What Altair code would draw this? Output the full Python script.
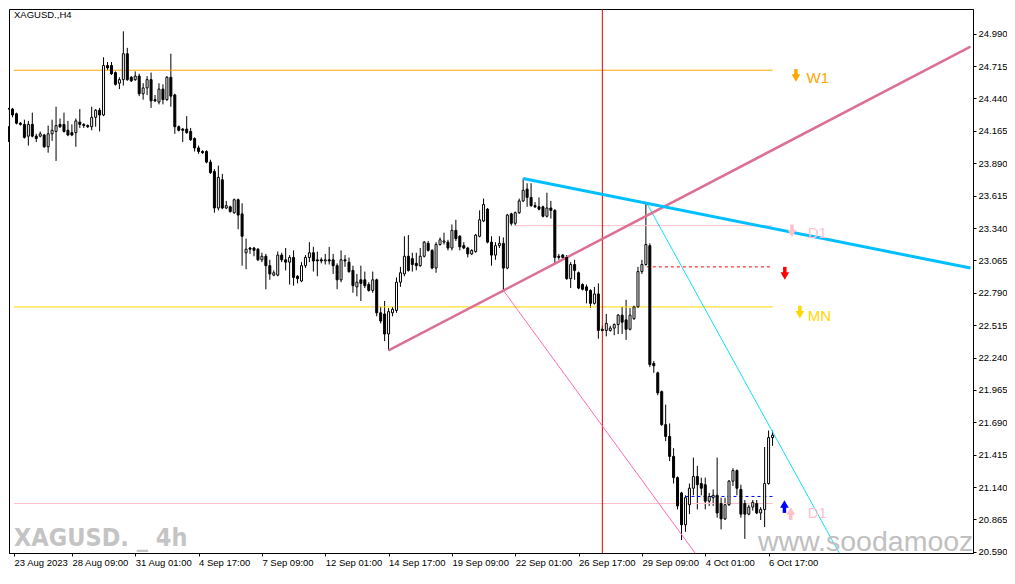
import json
import altair as alt
import pandas as pd

# ---------------- data ----------------
OPEN = [24.20, 24.35, 24.31, 24.23, 24.22, 24.12, 24.22, 24.12, 24.12, 24.13,
        24.03, 24.14, 24.16, 24.22, 24.22, 24.17, 24.15, 24.15, 24.24, 24.22,
        24.21, 24.20, 24.28, 24.34, 24.30, 24.72, 24.72, 24.66, 24.57, 24.60,
        24.82, 24.62, 24.60, 24.63, 24.48, 24.53, 24.60, 24.43, 24.41, 24.52,
        24.43, 24.62, 24.47, 24.20, 24.18, 24.18, 24.16, 24.10, 24.02, 23.99,
        23.99, 23.90, 23.82, 23.51, 23.75, 23.51, 23.52, 23.47, 23.58, 23.46,
        23.13, 23.17, 23.17, 23.16, 23.07, 23.10, 23.02, 22.94, 22.94, 23.11,
        23.07, 23.05, 23.09, 22.93, 22.89, 23.02, 23.09, 23.13, 23.07, 23.07,
        23.06, 23.07, 23.07, 23.02, 22.90, 23.07, 23.05, 22.98, 22.84, 22.90,
        22.90, 22.86, 22.81, 22.90, 22.62, 22.61, 22.44, 22.62, 22.64, 22.88,
        22.95, 23.10, 23.08, 23.04, 23.02, 23.10, 23.21, 23.15, 23.00, 23.20,
        23.22, 23.22, 23.17, 23.32, 23.27, 23.19, 23.17, 23.12, 23.14, 23.27,
        23.40, 23.50, 23.22, 23.11, 23.19, 23.21, 23.00, 23.46, 23.38, 23.47,
        23.57, 23.67, 23.60, 23.53, 23.52, 23.52, 23.44, 23.51, 23.49, 23.10,
        23.11, 23.09, 22.91, 23.03, 22.96, 22.86, 22.84, 22.81, 22.70, 22.78,
        22.48, 22.47, 22.47, 22.49, 22.52, 22.60, 22.56, 22.48, 22.57, 22.67,
        22.97, 23.03, 23.19, 22.19, 22.11, 21.95, 21.67, 21.57, 21.40, 21.22,
        21.09, 20.82, 20.99, 21.13, 21.23, 21.17, 21.16, 21.02, 21.05, 21.07,
        21.00, 20.87, 20.99, 21.19, 21.28, 21.12, 21.00, 20.91, 20.97, 21.00,
        20.92, 20.95, 21.17, 21.56]
HIGH = [24.36, 24.36, 24.32, 24.24, 24.26, 24.25, 24.32, 24.14, 24.16, 24.14,
        24.21, 24.26, 24.37, 24.27, 24.32, 24.25, 24.22, 24.27, 24.35, 24.23,
        24.22, 24.37, 24.35, 24.36, 24.79, 24.75, 24.75, 24.67, 24.62, 25.01,
        24.87, 24.63, 24.67, 24.65, 24.57, 24.63, 24.66, 24.47, 24.57, 24.56,
        24.63, 24.82, 24.48, 24.21, 24.19, 24.29, 24.19, 24.11, 24.04, 24.00,
        24.00, 23.92, 23.84, 23.87, 23.80, 23.57, 23.53, 23.59, 23.59, 23.55,
        23.25, 23.18, 23.18, 23.17, 23.13, 23.12, 23.07, 22.98, 23.14, 23.13,
        23.17, 23.11, 23.15, 22.94, 23.05, 23.11, 23.22, 23.18, 23.14, 23.09,
        23.12, 23.18, 23.12, 23.04, 23.15, 23.11, 23.09, 23.02, 22.95, 23.02,
        22.97, 22.88, 22.97, 22.91, 22.67, 22.72, 22.66, 22.67, 22.92, 23.01,
        23.27, 23.28, 23.13, 23.13, 23.17, 23.23, 23.23, 23.16, 23.22, 23.26,
        23.30, 23.24, 23.37, 23.41, 23.28, 23.22, 23.18, 23.16, 23.29, 23.49,
        23.59, 23.51, 23.27, 23.22, 23.27, 23.26, 23.46, 23.47, 23.48, 23.59,
        23.76, 23.72, 23.72, 23.56, 23.60, 23.53, 23.64, 23.57, 23.50, 23.12,
        23.12, 23.11, 23.05, 23.07, 22.97, 22.87, 22.86, 22.82, 22.84, 22.87,
        22.51, 22.61, 22.51, 22.53, 22.61, 22.67, 22.73, 22.66, 22.68, 23.01,
        23.07, 23.55, 23.21, 22.21, 22.12, 21.96, 21.84, 21.68, 21.47, 21.23,
        21.10, 21.07, 21.17, 21.39, 21.32, 21.22, 21.22, 21.09, 21.12, 21.39,
        21.05, 21.05, 21.20, 21.30, 21.29, 21.16, 21.03, 20.99, 21.03, 21.03,
        20.97, 21.48, 21.62, 21.62]
LOW = [24.07, 24.28, 24.22, 24.21, 24.10, 24.04, 24.11, 24.07, 24.11, 24.02,
       23.98, 24.08, 23.91, 24.19, 24.15, 24.12, 24.12, 24.03, 24.19, 24.19,
       24.19, 24.17, 24.20, 24.16, 24.29, 24.68, 24.64, 24.55, 24.52, 24.55,
       24.59, 24.58, 24.59, 24.46, 24.43, 24.47, 24.36, 24.41, 24.39, 24.39,
       24.42, 24.37, 24.14, 24.16, 24.07, 24.14, 24.08, 23.99, 23.97, 23.97,
       23.89, 23.80, 23.47, 23.49, 23.50, 23.50, 23.47, 23.46, 23.33, 23.02,
       22.99, 23.12, 23.10, 23.06, 23.05, 22.82, 22.90, 22.93, 22.93, 23.05,
       22.98, 22.86, 22.85, 22.87, 22.88, 23.00, 23.05, 22.97, 22.93, 23.04,
       23.03, 23.03, 22.95, 22.82, 22.88, 23.01, 22.96, 22.79, 22.76, 22.72,
       22.83, 22.80, 22.79, 22.59, 22.53, 22.38, 22.30, 22.59, 22.62, 22.84,
       22.93, 22.97, 22.97, 22.98, 23.01, 23.09, 23.14, 22.99, 22.96, 23.19,
       23.20, 23.15, 23.15, 23.23, 23.15, 23.16, 23.09, 23.11, 23.13, 23.26,
       23.39, 23.21, 23.02, 23.07, 23.17, 22.80, 22.99, 23.36, 23.36, 23.46,
       23.56, 23.52, 23.52, 23.51, 23.49, 23.43, 23.43, 23.42, 23.04, 23.07,
       23.07, 22.90, 22.83, 22.90, 22.82, 22.81, 22.70, 22.66, 22.69, 22.40,
       22.46, 22.42, 22.46, 22.43, 22.44, 22.44, 22.39, 22.47, 22.56, 22.66,
       22.95, 23.02, 22.16, 22.11, 21.92, 21.66, 21.53, 21.36, 21.17, 20.95,
       20.69, 20.76, 20.91, 21.07, 20.95, 21.07, 20.95, 20.98, 20.98, 20.88,
       20.78, 20.86, 20.98, 21.15, 21.07, 20.88, 20.70, 20.90, 20.94, 20.91,
       20.86, 20.80, 21.16, 21.49]
CLOSE = [24.35, 24.30, 24.23, 24.22, 24.11, 24.22, 24.12, 24.10, 24.14, 24.03,
         24.14, 24.17, 24.21, 24.20, 24.16, 24.13, 24.13, 24.25, 24.22, 24.21,
         24.20, 24.28, 24.34, 24.30, 24.72, 24.70, 24.65, 24.56, 24.60, 24.82,
         24.60, 24.59, 24.63, 24.48, 24.53, 24.60, 24.42, 24.42, 24.52, 24.43,
         24.62, 24.46, 24.20, 24.17, 24.17, 24.15, 24.09, 24.02, 23.99, 23.98,
         23.90, 23.81, 23.51, 23.77, 23.51, 23.53, 23.48, 23.58, 23.45, 23.27,
         23.16, 23.16, 23.15, 23.07, 23.10, 23.02, 22.95, 22.96, 23.11, 23.07,
         23.05, 23.09, 22.92, 22.91, 23.02, 23.09, 23.13, 23.06, 23.06, 23.06,
         23.07, 23.06, 23.02, 22.90, 23.07, 23.06, 22.97, 22.85, 22.88, 22.87,
         22.85, 22.81, 22.90, 22.62, 22.55, 22.44, 22.63, 22.65, 22.88, 22.96,
         23.10, 22.98, 23.03, 23.02, 23.10, 23.22, 23.15, 23.00, 23.20, 23.24,
         23.23, 23.17, 23.32, 23.25, 23.18, 23.17, 23.12, 23.15, 23.28, 23.41,
         23.54, 23.22, 23.11, 23.19, 23.21, 23.00, 23.45, 23.38, 23.47, 23.57,
         23.66, 23.60, 23.53, 23.52, 23.50, 23.44, 23.51, 23.49, 23.09, 23.09,
         23.09, 22.91, 23.03, 22.98, 22.83, 22.82, 22.81, 22.70, 22.78, 22.47,
         22.47, 22.53, 22.49, 22.52, 22.60, 22.54, 22.48, 22.60, 22.67, 22.97,
         23.03, 23.20, 22.18, 22.17, 21.94, 21.67, 21.57, 21.40, 21.22, 20.98,
         20.82, 21.05, 21.13, 21.23, 21.16, 21.13, 21.02, 21.06, 21.07, 20.92,
         20.87, 20.99, 21.19, 21.28, 21.13, 20.91, 20.91, 20.97, 21.01, 20.92,
         20.95, 21.17, 21.56, 21.58]

X_LABELS = ["23 Aug 2023", "28 Aug 09:00", "31 Aug 01:00", "4 Sep 17:00",
            "7 Sep 09:00", "12 Sep 01:00", "14 Sep 17:00", "19 Sep 09:00",
            "22 Sep 01:00", "26 Sep 17:00", "29 Sep 09:00", "4 Oct 01:00",
            "6 Oct 17:00"]
X_LABEL_BARS = [0, 16, 32, 48, 64, 80, 96, 112, 128, 144, 160, 176, 192]
Y_TICKS = [24.990, 24.715, 24.440, 24.165, 23.890, 23.615, 23.340, 23.065,
           22.790, 22.515, 22.240, 21.965, 21.690, 21.415, 21.140, 20.865, 20.590]

# horizontal level lines: name, price, start bar, end bar
LEVEL_NAMES = ["W1", "D1 high", "D1 low", "MN", "red dash", "blue dash"]
LEVEL_PRICES = [24.68, 23.36, 21.00, 22.67, 23.01, 21.06]
LEVEL_START = [None, 128, None, None, 161.25, 171]
LEVEL_END = [193, 193, 193, 193, 193, 193]
LEVEL_COLORS = ["#FFA500", "#FFC0CB", "#FFC0CB", "#FFD700", "#FF0000", "#0000FF"]
LEVEL_DASHED = [False, False, False, False, True, True]

# trend lines: (bar1, price1, bar2, price2)
TREND_BLUE = [130, 23.76, 243, 23.00]
TREND_PINK = [96, 22.30, 243, 24.88]
TREND_PINK_THIN = [125, 22.81, 173.75, 20.565]
TREND_CYAN = [161.25, 23.55, 210, 20.57]
VLINE_BAR = 150

# arrows and level labels
ARROW_BAR = [198.9, 197.9, 196.1, 199.9, 196.0, 197.6]
ARROW_PRICE = [24.63, 23.31, 22.95, 22.62, 20.98, 20.92]
ARROW_DIR = ["down", "down", "down", "down", "up", "up"]
ARROW_COLOR = ["#FFA500", "#FFC0CB", "#FF0000", "#FFD700", "#0000FF", "#FFC0CB"]
LABEL_TEXT = ["W1", "D1", "MN", "D1"]
LABEL_BAR = [201.6, 201.9, 201.9, 201.9]
LABEL_PRICE = [24.615, 23.30, 22.59, 20.92]
LABEL_COLOR = ["#FFA500", "#FFC0CB", "#FFD700", "#FFC0CB"]

# ---------------- layout ----------------
W, H = 964, 544
X_DOMAIN = [1.375, 1.375 + W / 4]
Y_DOMAIN = [20.58, 25.20]
FONT = "Liberation Sans"

xs = alt.Scale(domain=X_DOMAIN, nice=False, zero=False)
ys = alt.Scale(domain=Y_DOMAIN, nice=False, zero=False)

candles = pd.DataFrame({"bar": list(range(len(OPEN))), "open": OPEN, "high": HIGH,
                        "low": LOW, "close": CLOSE})

x_values = [X_DOMAIN[0]] + X_LABEL_BARS[1:]
x_axis = alt.Axis(values=x_values,
                  labelExpr=json.dumps(X_LABELS) + "[round(datum.value/16)]",
                  labelAlign="left", labelBaseline="top", labelPadding=1,
                  tickSize=3, labelFlush=False, labelOverlap=False, grid=False,
                  title=None, labelFont=FONT, labelFontSize=9.5, labelColor="black",
                  tickColor="black", domainColor="black")
y_axis = alt.Axis(orient="right", values=Y_TICKS, format=".3f", tickSize=3,
                  labelPadding=2, grid=False, title=None, labelFont=FONT,
                  labelFontSize=9.5, labelColor="black", tickColor="black",
                  domainColor="black", labelOverlap=False, labelFlush=False)


def X(field):
    return alt.X(field, type="quantitative", scale=xs, axis=x_axis)


def Y(field):
    return alt.Y(field, type="quantitative", scale=ys, axis=y_axis)


wicks = alt.Chart(candles).mark_rule(color="black", strokeWidth=1).encode(
    x=X("bar"), y=Y("low"), y2="high")
bodies = alt.Chart(candles).mark_bar(size=2, stroke="black", strokeWidth=1).encode(
    x=X("bar"), y=Y("open"), y2="close",
    fill=alt.condition("datum.close >= datum.open", alt.value("white"), alt.value("black")))

levels = pd.DataFrame({
    "name": LEVEL_NAMES, "price": LEVEL_PRICES, "color": LEVEL_COLORS,
    "dashed": LEVEL_DASHED,
    "x1": [X_DOMAIN[0] if s is None else s for s in LEVEL_START], "x2": LEVEL_END})
solid_levels = alt.Chart(levels[~levels["dashed"]]).mark_rule(strokeWidth=1).encode(
    x=X("x1"), x2="x2", y=Y("price"), color=alt.Color("color:N", scale=None))
dash_levels = alt.Chart(levels[levels["dashed"]]).mark_rule(
    strokeWidth=1, strokeDash=[3, 3]).encode(
    x=X("x1"), x2="x2", y=Y("price"), color=alt.Color("color:N", scale=None))

vline = alt.Chart(pd.DataFrame({"bar": [VLINE_BAR]})).mark_rule(
    color="#DD0000", strokeWidth=1).encode(x=X("bar"))


def trend(vals, color, width):
    df = pd.DataFrame({"b1": [vals[0]], "p1": [vals[1]], "b2": [vals[2]], "p2": [vals[3]]})
    return alt.Chart(df).mark_rule(color=color, strokeWidth=width, clip=True).encode(
        x=X("b1"), y=Y("p1"), x2="b2", y2="p2")


trends = [trend(TREND_PINK_THIN, "#FF69B4", 1), trend(TREND_CYAN, "#10E0F8", 1),
          trend(TREND_PINK, "#DB7093", 2.5), trend(TREND_BLUE, "#00BFFF", 3)]

arrows_df = pd.DataFrame({"bar": ARROW_BAR, "price": ARROW_PRICE, "dir": ARROW_DIR,
                          "c": ARROW_COLOR})
down_df = arrows_df[arrows_df["dir"] == "down"]
up_df = arrows_df[arrows_df["dir"] == "up"]
down_stem = alt.Chart(down_df).mark_rule(strokeWidth=3.5, yOffset=-7, y2Offset=0).encode(
    x=X("bar"), y=Y("price"), y2="price", color=alt.Color("c:N", scale=None))
down_head = alt.Chart(down_df).mark_point(shape="triangle-down", filled=True, size=75,
                                          opacity=1, yOffset=2).encode(
    x=X("bar"), y=Y("price"), color=alt.Color("c:N", scale=None))
up_stem = alt.Chart(up_df).mark_rule(strokeWidth=3.5, yOffset=0, y2Offset=7).encode(
    x=X("bar"), y=Y("price"), y2="price", color=alt.Color("c:N", scale=None))
up_head = alt.Chart(up_df).mark_point(shape="triangle-up", filled=True, size=75,
                                      opacity=1, yOffset=-2).encode(
    x=X("bar"), y=Y("price"), color=alt.Color("c:N", scale=None))

labels_df = pd.DataFrame({"t": LABEL_TEXT, "bar": LABEL_BAR, "price": LABEL_PRICE,
                          "c": LABEL_COLOR})
labels = alt.Chart(labels_df).mark_text(font=FONT, fontSize=15, align="left",
                                        baseline="middle").encode(
    x=X("bar"), y=Y("price"), text="t:N", color=alt.Color("c:N", scale=None))

title_df = pd.DataFrame({"t": ["XAGUSD.,H4"], "bar": [X_DOMAIN[0]], "price": [25.15]})
title = alt.Chart(title_df).mark_text(font=FONT, fontSize=9.5, align="left",
                                      baseline="middle", dx=0, color="black").encode(
    x=X("bar"), y=Y("price"), text="t:N")

wm1_df = pd.DataFrame({"t": ["XAGUSD. _  4h"], "bar": [X_DOMAIN[0]], "price": [20.64]})
wm1 = alt.Chart(wm1_df).mark_text(
    font="'Liberation Sans Narrow', 'DejaVu Sans Condensed', 'Roboto Condensed', 'Liberation Sans', sans-serif",
    fontWeight="bold", fontSize=25, align="left", baseline="alphabetic",
    color="#C4C4C4").encode(x=X("bar"), y=Y("price"), text="t:N")
wm2_df = pd.DataFrame({"t": ["www.soodamooz"], "bar": [189.3], "price": [20.60]})
wm2 = alt.Chart(wm2_df).mark_text(font=FONT, fontSize=28.5, align="left",
                                  baseline="alphabetic", color="#C0C0C0", clip=True).encode(
    x=X("bar"), y=Y("price"), text="t:N")

chart = alt.layer(
    wicks, solid_levels, dash_levels, vline, *trends, bodies,
    down_stem, down_head, up_stem, up_head, labels, title, wm1, wm2
).properties(
    width=W, height=H,
    autosize=alt.AutoSizeParams(type="none"),
    padding={"left": 1, "top": 1, "right": 34, "bottom": 15},
    background="white",
).configure_view(stroke="black", strokeWidth=1)

chart.save("out.html", embed_options={"renderer": "svg", "actions": False})
